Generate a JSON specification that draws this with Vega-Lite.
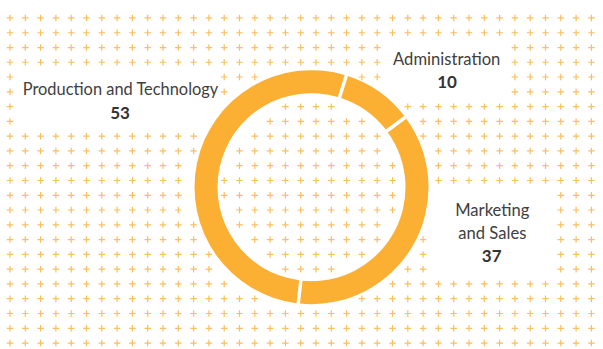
{
  "$schema": "https://vega.github.io/schema/vega-lite/v6.json",
  "width": 603,
  "height": 349,
  "autosize": {"type": "fit", "contains": "padding"},
  "padding": 0,
  "background": "white",
  "config": {"view": {"stroke": null}},
  "datasets": {
    "depts": [
      {"category": "Production and Technology", "label": "Production and Technology", "value": 53},
      {"category": "Administration", "label": "Administration", "value": 10},
      {"category": "Marketing and Sales", "label": "Marketing\nand Sales", "value": 37}
    ],
    "grid": [
      {
        "xs": [10, 25.3, 40.6, 55.9, 71.2, 86.5, 101.8, 117.1, 132.4, 147.7, 163, 178.3, 193.6, 208.9, 224.2, 239.5, 254.8, 270.1, 285.4, 300.7, 316, 331.3, 346.6, 361.9, 377.2, 392.5, 407.8, 423.1, 438.4, 453.7, 469, 484.3, 499.6, 514.9, 530.2, 545.5, 560.8, 576.1, 591.4],
        "ys": [18.3, 33.4, 48.5, 63.5, 78.6, 93.7, 108.8, 123.9, 139, 154, 169.1, 184.2, 199.3, 214.3, 229.4, 244.5, 259.6, 274.7, 289.7, 304.8, 319.9, 335, 350.1]
      }
    ]
  },
  "layer": [
    {
      "data": {"name": "grid"},
      "transform": [
        {"flatten": ["xs"], "as": ["x"]},
        {"flatten": ["ys"], "as": ["y"]},
        {"filter": "(sqrt(pow(datum.x-311.5,2)+pow(datum.y-191,2)) < 87.8 || sqrt(pow(datum.x-311.5,2)+pow(datum.y-191,2)) > 122.5) && !(datum.x > 17 && datum.x < 217 && datum.y > 71 && datum.y < 131) && !(datum.x > 385 && datum.x < 507 && datum.y > 41 && datum.y < 101) && !(datum.x > 431 && datum.x < 553 && datum.y > 192 && datum.y < 283)"}
      ],
      "mark": {"type": "point", "shape": "M-1,0L1,0M0,-1L0,1", "size": 42, "filled": false, "color": "#FBB034", "strokeWidth": 1.2, "opacity": 0.8},
      "encoding": {
        "x": {"field": "x", "type": "quantitative", "scale": {"domain": [0, 603], "nice": false, "zero": false}, "axis": null},
        "y": {"field": "y", "type": "quantitative", "scale": {"domain": [0, 349], "nice": false, "zero": false, "reverse": true}, "axis": null}
      }
    },
    {
      "data": {"name": "depts"},
      "mark": {"type": "arc", "outerRadius": 117, "innerRadius": 94, "padAngle": 0.023, "color": "#FBB034"},
      "encoding": {
        "theta": {"field": "value", "type": "quantitative", "stack": true, "scale": {"range": [0.302, 6.585]}},
        "order": {"field": "category", "type": "ordinal", "sort": "ascending"},
        "x": {"datum": 311.5, "type": "quantitative"},
        "y": {"datum": 191, "type": "quantitative"}
      }
    },
    {
      "data": {"name": "depts"},
      "transform": [{"filter": "datum.category === 'Production and Technology'"}],
      "mark": {"type": "text", "font": "Lato", "fontSize": 16.4, "color": "#404040", "align": "center", "baseline": "alphabetic"},
      "encoding": {"text": {"field": "label"}, "x": {"datum": 120.5, "type": "quantitative"}, "y": {"datum": 96.7, "type": "quantitative"}}
    },
    {
      "data": {"name": "depts"},
      "transform": [{"filter": "datum.category === 'Production and Technology'"}],
      "mark": {"type": "text", "font": "Lato", "fontSize": 17, "fontWeight": "bold", "color": "#333333", "align": "center", "baseline": "alphabetic"},
      "encoding": {"text": {"field": "value"}, "x": {"datum": 120, "type": "quantitative"}, "y": {"datum": 121, "type": "quantitative"}}
    },
    {
      "data": {"name": "depts"},
      "transform": [{"filter": "datum.category === 'Administration'"}],
      "mark": {"type": "text", "font": "Lato", "fontSize": 16.6, "color": "#404040", "align": "center", "baseline": "alphabetic"},
      "encoding": {"text": {"field": "label"}, "x": {"datum": 446.7, "type": "quantitative"}, "y": {"datum": 66, "type": "quantitative"}}
    },
    {
      "data": {"name": "depts"},
      "transform": [{"filter": "datum.category === 'Administration'"}],
      "mark": {"type": "text", "font": "Lato", "fontSize": 17, "fontWeight": "bold", "color": "#333333", "align": "center", "baseline": "alphabetic"},
      "encoding": {"text": {"field": "value"}, "x": {"datum": 447, "type": "quantitative"}, "y": {"datum": 89.3, "type": "quantitative"}}
    },
    {
      "data": {"name": "depts"},
      "transform": [{"filter": "datum.category === 'Marketing and Sales'"}],
      "mark": {"type": "text", "font": "Lato", "fontSize": 16.6, "color": "#404040", "align": "center", "baseline": "alphabetic", "lineBreak": "\n", "lineHeight": 23.4},
      "encoding": {"text": {"field": "label"}, "x": {"datum": 492.3, "type": "quantitative"}, "y": {"datum": 220, "type": "quantitative"}}
    },
    {
      "data": {"name": "depts"},
      "transform": [{"filter": "datum.category === 'Marketing and Sales'"}],
      "mark": {"type": "text", "font": "Lato", "fontSize": 17, "fontWeight": "bold", "color": "#333333", "align": "center", "baseline": "alphabetic"},
      "encoding": {"text": {"field": "value"}, "x": {"datum": 491.7, "type": "quantitative"}, "y": {"datum": 267.3, "type": "quantitative"}}
    }
  ]
}
